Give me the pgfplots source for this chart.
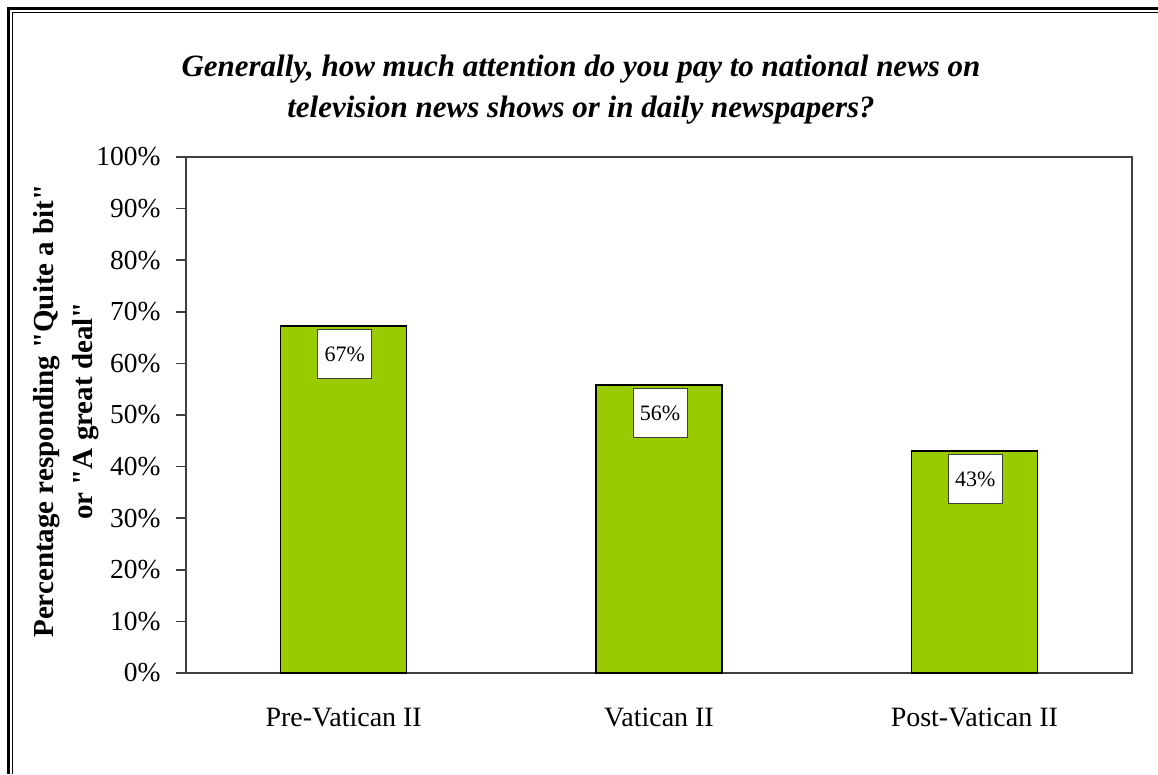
\documentclass[border=0pt]{standalone}
\usepackage{fontspec}
\setmainfont{Liberation Serif}[Ligatures=TeXOff]
\usepackage{pgfplots}
\pgfplotsset{compat=1.18}
\definecolor{bargreen}{HTML}{99CC00}
\definecolor{axgray}{HTML}{404040}
\begin{document}
\begin{tikzpicture}[x=1pt,y=1pt]
\path[use as bounding box] (0,0) rectangle (1158,774);
% frame
\draw[line width=3pt] (8.5,0) -- (8.5,765.5) -- (1158,765.5);
\draw[line width=1pt] (12.5,0) -- (12.5,761.5) -- (1158,761.5);
% title
\node[align=center, font=\fontsize{31}{41}\selectfont\bfseries\itshape] at (581,684)
  {Generally, how much attention do you pay to national news on\\television news shows or in daily newspapers?};
% y label
\node[rotate=90, align=center, font=\fontsize{29}{39}\selectfont\bfseries] at (66,363)
  {Percentage responding "Quite a bit"\\or "A great deal"};
\begin{axis}[
  at={(186pt,101pt)}, anchor=south west,
  scale only axis, width=946pt, height=516pt,
  xmin=-0.5, xmax=2.5, ymin=0, ymax=100,
  axis line style={axgray, line width=1.5pt},
  ybar, bar width=0.4,
  ytick={0,10,...,100},
  yticklabel={\pgfmathprintnumber{\tick}\%},
  tick align=outside, ytick pos=left,
  major tick length=10pt,
  tick style={axgray, line width=1.5pt},
  yticklabel style={font=\fontsize{27.5}{30}\selectfont, xshift=-12pt},
  xtick={0,1,2},
  xticklabels={Pre-Vatican II, Vatican II, Post-Vatican II},
  x tick style={draw=none},
  xtick pos=bottom,
  xticklabel style={font=\fontsize{28}{32}\selectfont, yshift=-21pt},
  extra x ticks={-0.5,0.5,1.5,2.5},
  extra x tick labels={},
  extra x tick style={tick style={axgray, line width=1.5pt}, major tick length=10pt},
  /pgf/number format/assume math mode=true,
  nodes near coords={\pgfmathprintnumber[fixed,precision=0]{\pgfplotspointmeta}\%},
  every node near coord/.append style={anchor=north, yshift=-3pt, xshift=1pt, fill=white, draw=axgray, line width=1pt,
    minimum width=54pt, minimum height=49pt, inner sep=0pt, font=\fontsize{22}{24}\selectfont},
]
\addplot[fill=bargreen, draw=black, line width=1.5pt] coordinates {(0,67.2) (1,55.8) (2,43.0)};
\end{axis}
\end{tikzpicture}
\end{document}
